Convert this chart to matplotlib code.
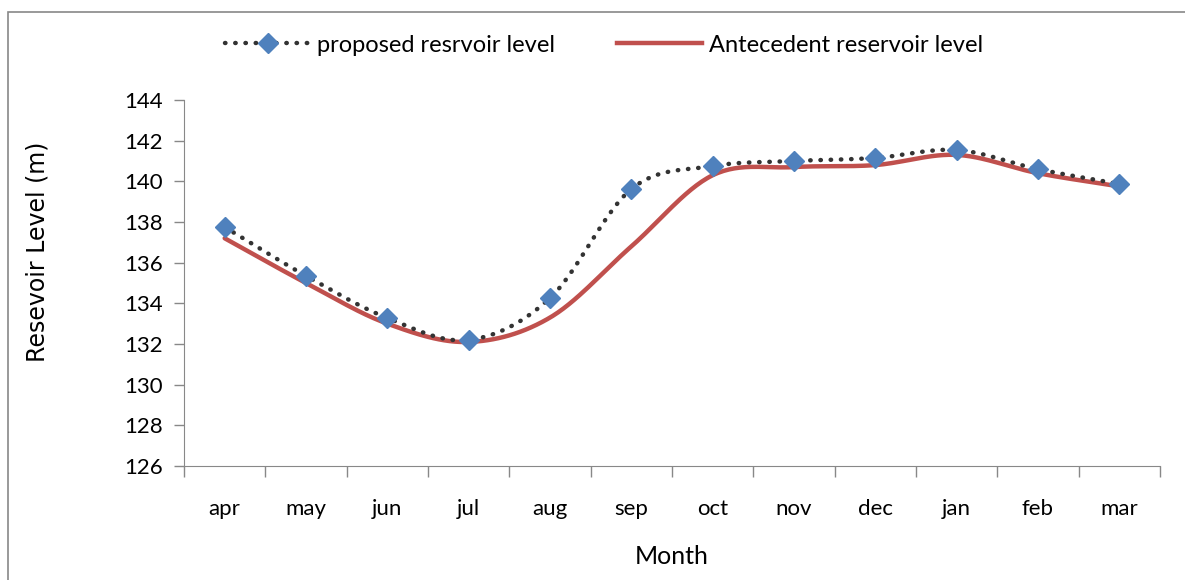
import numpy as np
import matplotlib.pyplot as plt
from matplotlib.lines import Line2D
from matplotlib.patches import Rectangle

months = ['apr', 'may', 'jun', 'jul', 'aug', 'sep', 'oct', 'nov', 'dec', 'jan', 'feb', 'mar']
proposed = [137.75, 135.35, 133.28, 132.2, 134.26, 139.62, 140.75, 141.0, 141.15, 141.54, 140.6, 139.87]
antecedent = [137.2, 135.0, 133.0, 132.1, 133.3, 136.8, 140.3, 140.7, 140.8, 141.3, 140.4, 139.75]
yticks = [126, 128, 130, 132, 134, 136, 138, 140, 142, 144]


def smooth(x, y, n=30):
    # catmull-rom curve through the points, like excel's smoothed line
    x = np.asarray(x, float)
    y = np.asarray(y, float)
    px = np.concatenate([[2 * x[0] - x[1]], x, [2 * x[-1] - x[-2]]])
    py = np.concatenate([[2 * y[0] - y[1]], y, [2 * y[-1] - y[-2]]])
    xs, ys = [], []
    t = np.linspace(0, 1, n, endpoint=False)
    for i in range(1, len(px) - 2):
        for p, out in ((px, xs), (py, ys)):
            p0, p1, p2, p3 = p[i - 1], p[i], p[i + 1], p[i + 2]
            out.extend(0.5 * (2 * p1 + (-p0 + p2) * t
                              + (2 * p0 - 5 * p1 + 4 * p2 - p3) * t ** 2
                              + (-p0 + 3 * p1 - 3 * p2 + p3) * t ** 3))
    xs.append(x[-1])
    ys.append(y[-1])
    return np.array(xs), np.array(ys)


plt.rcParams['font.family'] = ['Lato', 'DejaVu Sans']

fig = plt.figure(figsize=(11.85, 5.8), dpi=100)
fig.patches.append(Rectangle((8 / 1185, -0.01), 1.0, 0.99, transform=fig.transFigure,
                             fill=False, edgecolor='#888888', linewidth=1.2))
ax = fig.add_axes([184 / 1185, 1 - 466 / 580, 976 / 1185, 366 / 580])

x = np.arange(len(months))
sx, sy = smooth(x, proposed)
ax.plot(sx, sy, color='#333333', linestyle=(0, (0.1, 2.2)), linewidth=3.2,
        dash_capstyle='round', zorder=3)
ax.plot(x, proposed, linestyle='none', marker='D', markersize=10,
        color='#4F81BD', zorder=4)
ax2x, ax2y = smooth(x, antecedent)
ax.plot(ax2x, ax2y, color='#C0504D', linewidth=3.2, solid_capstyle='round', zorder=2)

ax.set_xlim(-0.5, len(months) - 0.5)
ax.set_ylim(126, 144)
ax.set_yticks(yticks)
ax.set_yticklabels([str(v) for v in yticks], fontsize=16)
ax.set_xticks(x)
ax.set_xticklabels(months, fontsize=16)
ax.set_xticks(np.arange(-0.5, len(months)), minor=True)
ax.tick_params(axis='x', which='major', length=0, pad=24)
ax.tick_params(axis='x', which='minor', length=8, color='#888888', width=1)
ax.tick_params(axis='y', length=7, color='#888888', width=1, pad=8)

for side in ('top', 'right'):
    ax.spines[side].set_visible(False)
for side in ('left', 'bottom'):
    ax.spines[side].set_color('#888888')

fig.text(672 / 1185, 1 - 557 / 580, 'Month', fontsize=18, ha='center', va='center')
fig.text(38 / 1185, 1 - 252 / 580, 'Resevoir Level (m)', fontsize=17,
         family='DejaVu Sans', rotation=90, ha='center', va='center')

h1 = Line2D([], [], color='#333333', linestyle=(0, (0.1, 2.2)), linewidth=3.2,
            dash_capstyle='round', marker='D', markersize=10,
            markerfacecolor='#4F81BD', markeredgecolor='#4F81BD')
h2 = Line2D([], [], color='#C0504D', linewidth=3.2)
fig.legend([h1, h2], ['proposed resrvoir level', 'Antecedent reservoir level'],
           loc='center', bbox_to_anchor=(604 / 1185, 1 - 45 / 580), ncol=2, frameon=False,
           fontsize=17, handlelength=3.6, handletextpad=0.3, columnspacing=2.6)

fig.savefig('out.png', dpi=100)
